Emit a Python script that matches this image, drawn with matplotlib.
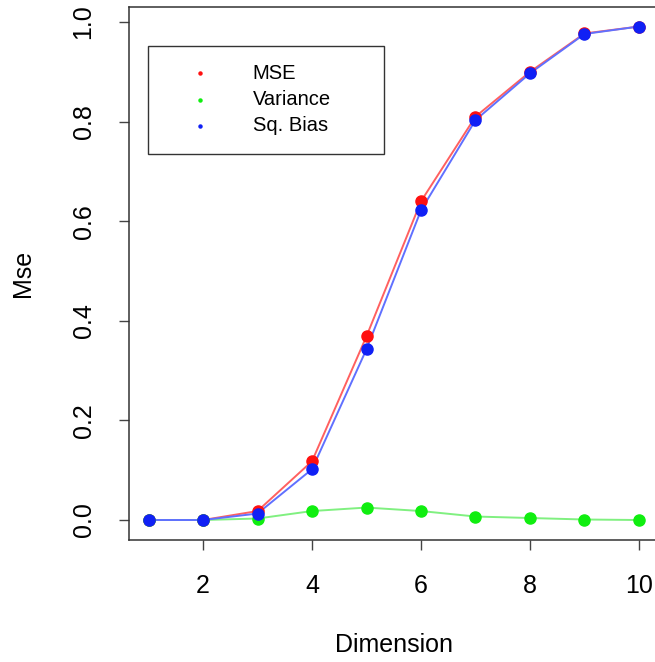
import matplotlib
matplotlib.use("Agg")
import matplotlib.pyplot as plt
from matplotlib.patches import Rectangle
from matplotlib.lines import Line2D

plt.rcParams['font.family'] = ['Liberation Sans', 'DejaVu Sans']

dimension = [1, 2, 3, 4, 5, 6, 7, 8, 9, 10]
mse = [0.0, 0.0, 0.018, 0.118, 0.369, 0.640, 0.810, 0.900, 0.977, 0.991]
variance = [0.0, 0.0, 0.003, 0.018, 0.025, 0.018, 0.007, 0.004, 0.001, 0.0]
sq_bias = [0.0, 0.0, 0.013, 0.102, 0.343, 0.622, 0.803, 0.897, 0.976, 0.991]
series_names = ["MSE", "Variance", "Sq. Bias"]
series_colors = ["#ff1010", "#10ee10", "#1020f5"]
line_colors = ["#ff6060", "#80f080", "#6070ff"]
xticks = [2, 4, 6, 8, 10]
yticks = [0.0, 0.2, 0.4, 0.6, 0.8, 1.0]
ytick_labels = ["0.0", "0.2", "0.4", "0.6", "0.8", "1.0"]

fig = plt.figure(figsize=(6.55, 6.62), dpi=100)
ax = fig.add_axes([0.1968, 0.1847, 0.8087, 0.8043])

for vals, col in zip([mse, variance, sq_bias], line_colors):
    ax.plot(dimension, vals, color=col, lw=1.4, zorder=2)
for vals, col in zip([mse, variance, sq_bias], series_colors):
    ax.plot(dimension, vals, linestyle='none', marker='o', markersize=8,
            markerfacecolor=col, markeredgecolor=col, zorder=3)

ax.set_xlim(0.64, 10.36)
ax.set_ylim(-0.0396, 1.0296)
ax.set_xticks(xticks)
ax.set_xticklabels([str(t) for t in xticks], fontsize=18)
ax.set_yticks(yticks)
ax.set_yticklabels(ytick_labels, fontsize=18, rotation=90, va='center')
ax.tick_params(axis='both', direction='out', length=7, width=1, color='#444444')
ax.tick_params(axis='x', pad=18)
ax.tick_params(axis='y', pad=17)
for s in ax.spines.values():
    s.set_linewidth(1.1)
    s.set_color('#333333')

ax.set_xlabel("Dimension", fontsize=18, labelpad=25)
ax.set_ylabel("Mse", fontsize=18, labelpad=26)

# legend
fig.add_artist(Rectangle((0.226, 0.767), 0.360, 0.1635, transform=fig.transFigure,
                         facecolor='white', edgecolor='#333333', lw=1.0, zorder=5))
rows = [0.8897, 0.849, 0.8097]
for name, col, yy in zip(series_names, series_colors, rows):
    fig.add_artist(Line2D([0.305], [yy], transform=fig.transFigure, marker='o',
                          markersize=2.2, color=col, linestyle='none', zorder=6))
    fig.text(0.386, yy, name, fontsize=14.5, va='center', ha='left', zorder=6)

fig.savefig("out.png", dpi=100)
